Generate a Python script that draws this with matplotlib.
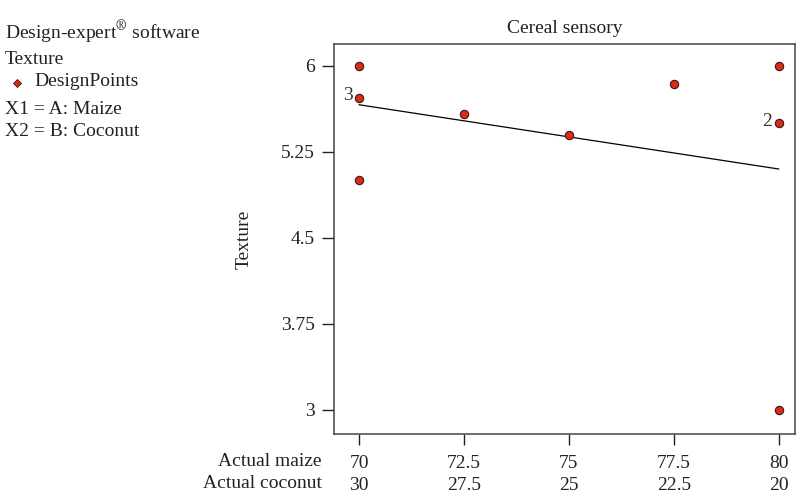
import matplotlib
matplotlib.use("Agg")
import matplotlib.pyplot as plt

plt.rcParams['font.family'] = ['Liberation Serif', 'DejaVu Serif']

# design points (Actual maize, Texture)
maize = [70, 70, 70, 72.5, 75, 77.5, 80, 80, 80]
texture = [6.0, 5.72, 5.0, 5.58, 5.40, 5.84, 6.0, 5.50, 3.0]

# fitted line end points
fit_maize = [70, 80]
fit_texture = [5.66, 5.10]

maize_ticks = [70, 72.5, 75, 77.5, 80]
coconut_ticks = ['30', '27.5', '25', '22.5', '20']
y_ticks = [3, 3.75, 4.5, 5.25, 6]

FS = 14
TC = '#222222'

fig = plt.figure(figsize=(7.96, 4.94), dpi=100)
ax = fig.add_axes([0.4196, 0.1215, 0.5786, 0.7895])

ax.plot(fit_maize, fit_texture, color='black', lw=0.9, zorder=2)
ax.plot(maize, texture, 'o', ms=6, mfc='#dd2a17', mec='#3a1a10', mew=0.8, zorder=3)

# repeat counts
ax.text(70 - 0.15, 5.74, '3', ha='right', va='center', fontsize=FS, color='#333333')
ax.text(80 - 0.15, 5.51, '2', ha='right', va='center', fontsize=FS, color='#333333')

ax.set_xlim(69.4, 80.38)
ax.set_ylim(2.79, 6.19)
ax.set_yticks(y_ticks)
ax.set_yticklabels(['3', '3.75', '4.5', '5.25', '6'])
ax.set_xticks(maize_ticks)
ax.set_xticklabels(['%g\n%s' % (m, c) for m, c in zip(maize_ticks, coconut_ticks)],
                   linespacing=1.4)
ax.tick_params(axis='x', direction='out', length=8, width=1, pad=7, labelsize=FS, colors=TC)
ax.tick_params(axis='y', direction='out', length=9, width=1, pad=5, labelsize=FS, colors=TC)
for s in ax.spines.values():
    s.set_color('#444444')
    s.set_linewidth(1.1)

ax.set_title('Cereal sensory', fontsize=FS, pad=8, color=TC)
ax.set_ylabel('Texture', fontsize=FS, labelpad=20, color=TC)

fig.text(322 / 796, 1 - 461 / 494, 'Actual maize', ha='right', va='center', fontsize=FS, color=TC)
fig.text(322 / 796, 1 - 483 / 494, 'Actual coconut', ha='right', va='center', fontsize=FS,
         color=TC)

# info block on the left
fig.text(5 / 796, 1 - 32 / 494, 'Design-expert$^{\u00ae}$ software', va='center', fontsize=FS,
         color=TC, math_fontfamily='stix')
fig.text(5 / 796, 1 - 60 / 494, 'Texture', va='center', fontsize=FS, color=TC)
fig.text(34 / 796, 1 - 82 / 494, 'DesignPoints', va='center', fontsize=FS, color=TC)
fig.lines.append(plt.Line2D([17 / 796], [1 - 83 / 494], transform=fig.transFigure,
                            marker='D', ms=4.5, mfc='#dd2a17', mec='#3a1a10', mew=0.6,
                            ls='none'))
fig.text(5 / 796, 1 - 109 / 494, 'X1 = A: Maize', va='center', fontsize=FS, color=TC)
fig.text(5 / 796, 1 - 131 / 494, 'X2 = B: Coconut', va='center', fontsize=FS, color=TC)

fig.savefig('out.png', dpi=100)
